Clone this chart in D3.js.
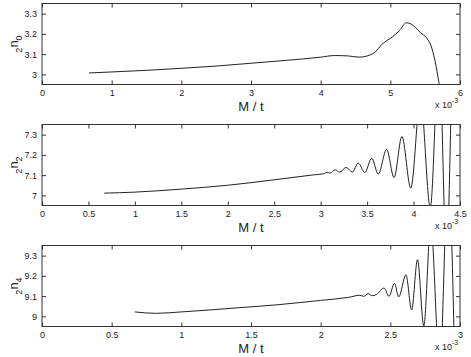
<!DOCTYPE html>
<html><head><meta charset="utf-8">
<script src="https://cdn.jsdelivr.net/npm/d3@7"></script>
<style>
body{margin:0;background:#fff;}
text{font-family:"Liberation Sans",Arial,Helvetica,sans-serif;fill:#222;}
</style></head>
<body><svg id="c" width="471" height="357"></svg>
<script>
// Panel 1: 2n0
const p1X = [0.675,1.0,1.5,2.0,2.5,3.0,3.5,4.0,4.2,4.4,4.55,4.75,4.9,5.03,5.13,5.23,5.3,5.43,5.53,5.58,5.64,5.70,5.73];
const p1Y = [3.007,3.012,3.020,3.030,3.041,3.055,3.069,3.085,3.093,3.091,3.085,3.102,3.155,3.185,3.216,3.255,3.248,3.207,3.176,3.145,3.07,2.955,2.90];
const p1XTicks = [0,1,2,3,4,5,6];
const p1YTicks = [3,3.1,3.2,3.3];

// Panel 2: 2n2
const p2X = [0.67,1.0,1.5,2.0,2.5,2.9,3.04,3.07,3.10,3.155,3.205,3.275,3.34,3.405,3.475,3.55,3.62,3.71,3.79,3.875,3.97,4.075,4.18,4.275,4.355,4.44,4.47];
const p2Y = [7.011,7.016,7.031,7.050,7.077,7.100,7.108,7.114,7.110,7.126,7.115,7.138,7.115,7.159,7.113,7.183,7.105,7.227,7.088,7.291,7.036,7.48,6.94,7.70,6.70,7.90,7.80];
const p2XTicks = [0,0.5,1,1.5,2,2.5,3,3.5,4,4.5];
const p2YTicks = [7,7.1,7.2,7.3];

// Panel 3: 2n4
const p3X = [0.667,0.82,1.0,1.42,1.7,2.0,2.2,2.28,2.31,2.34,2.37,2.40,2.455,2.49,2.53,2.56,2.612,2.653,2.695,2.74,2.79,2.855,2.915,2.97];
const p3Y = [9.022,9.015,9.022,9.043,9.058,9.079,9.094,9.104,9.099,9.112,9.102,9.108,9.140,9.099,9.163,9.096,9.205,9.032,9.280,8.953,9.45,8.75,9.70,8.50];
const p3XTicks = [0,0.5,1,1.5,2,2.5,3];
const p3YTicks = [9,9.1,9.2,9.3];

const svg = d3.select("#c");
const L = 42, R = 460;

function panel(id, xs, ys, xDom, yDom, xTicks, yTicks, top, bottom, sub, xfmt) {
  const x = d3.scaleLinear().domain(xDom).range([L, R]);
  const y = d3.scaleLinear().domain(yDom).range([bottom, top]);
  const g = svg.append("g");
  g.append("clipPath").attr("id", "clip" + id).append("rect")
    .attr("x", L).attr("y", top).attr("width", R - L).attr("height", bottom - top);
  const data = xs.map((v, i) => [v, ys[i]]);
  g.append("path").datum(data)
    .attr("clip-path", "url(#clip" + id + ")")
    .attr("fill", "none").attr("stroke", "#222").attr("stroke-width", 1)
    .attr("d", d3.line().x(d => x(d[0])).y(d => y(d[1])).curve(d3.curveMonotoneX));

  const tl = 4;
  const axB = d3.axisBottom(x).tickValues(xTicks).tickSizeInner(-tl).tickSizeOuter(0).tickPadding(5).tickFormat(xfmt);
  const axT = d3.axisTop(x).tickValues(xTicks).tickSizeInner(-tl).tickSizeOuter(0).tickFormat("");
  const axL = d3.axisLeft(y).tickValues(yTicks).tickSizeInner(-tl).tickSizeOuter(0).tickPadding(5).tickFormat(d3.format("~g"));
  const axR = d3.axisRight(y).tickValues(yTicks).tickSizeInner(-tl).tickSizeOuter(0).tickFormat("");
  [[axB, `translate(0,${bottom})`], [axT, `translate(0,${top})`], [axL, `translate(${L},0)`], [axR, `translate(${R},0)`]]
    .forEach(([a, t]) => {
      const ag = g.append("g").attr("transform", t).call(a);
      ag.select(".domain").remove();
      ag.selectAll("line").attr("stroke", "#333");
      ag.selectAll("text").attr("font-size", 9).style("fill", "#222");
    });
  g.append("rect").attr("x", L).attr("y", top).attr("width", R - L).attr("height", bottom - top)
    .attr("fill", "none").attr("stroke", "#333").attr("stroke-width", 1);

  // x label
  g.append("text").attr("x", (L + R) / 2).attr("y", bottom + 26).attr("text-anchor", "middle")
    .attr("font-size", 13).text("M / t");
  // x 10^-3
  const e = g.append("text").attr("x", R - 25).attr("y", bottom + 23).attr("font-size", 9);
  e.append("tspan").text("x 10");
  e.append("tspan").attr("dy", -5).attr("font-size", 7).text("-3");
  // y label
  const cy = (top + bottom) / 2;
  const yl = g.append("text").attr("transform", `translate(18,${cy}) rotate(-90)`).attr("text-anchor", "middle").attr("font-size", 13);
  yl.append("tspan").attr("font-size", 9).attr("dy", 4).text("2");
  yl.append("tspan").attr("dy", -4).text("n");
  yl.append("tspan").attr("font-size", 9).attr("dy", 4).text(sub);
}

panel(1, p1X, p1Y, [0, 6], [2.95, 3.35], p1XTicks, p1YTicks, 3.5, 84.5, "0", d3.format("~g"));
panel(2, p2X, p2Y, [0, 4.5], [6.95, 7.35], p2XTicks, p2YTicks, 124.5, 205.5, "2", d3.format("~g"));
panel(3, p3X, p3Y, [0, 3], [8.95, 9.35], p3XTicks, p3YTicks, 245.5, 326.5, "4", d3.format("~g"));
</script></body></html>
